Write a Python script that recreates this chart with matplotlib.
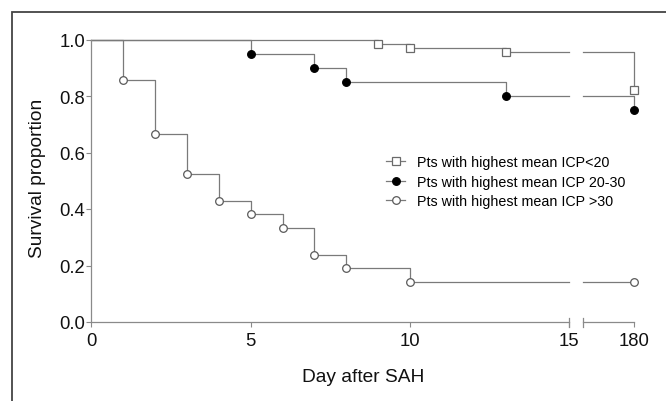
import numpy as np
import matplotlib
matplotlib.use('Agg')
import matplotlib.pyplot as plt
from matplotlib.lines import Line2D
from matplotlib.patches import Rectangle
import matplotlib.transforms as mtransforms

plt.rcParams['font.family'] = ['Liberation Sans', 'DejaVu Sans']

# Kaplan-Meier steps
days_lt20 = [9, 10, 13, 180]
surv_lt20 = [0.985, 0.970, 0.955, 0.821]

days_20_30 = [5, 7, 8, 13, 180]
surv_20_30 = [0.95, 0.90, 0.85, 0.80, 0.75]

days_gt30 = [1, 2, 3, 4, 5, 6, 7, 8, 10, 180]
surv_gt30 = [0.857, 0.667, 0.524, 0.429, 0.381, 0.333, 0.238, 0.190, 0.143, 0.143]

labels = ['Pts with highest mean ICP<20',
          'Pts with highest mean ICP 20-30',
          'Pts with highest mean ICP >30']

x_ticks_left = [0, 5, 10, 15]
x_ticks_right = [180]
y_ticks = [0.0, 0.2, 0.4, 0.6, 0.8, 1.0]
break_at = 15
break_start = 178.38

line_col = '#7a7a7a'
styles = [dict(marker='s', mfc='white', mec='#6a6a6a', ms=5.5, mew=0.9),
          dict(marker='o', mfc='black', mec='black', ms=5.5, mew=0.9),
          dict(marker='o', mfc='white', mec='#5a5a5a', ms=5.5, mew=0.9)]

W, H = 666, 402
fig = plt.figure(figsize=(W / 100, H / 100), dpi=100)
ax1 = fig.add_axes([91.4 / W, (H - 323) / H, (569.3 - 91.4) / W, (323 - 40.5) / H])
ax2 = fig.add_axes([582.7 / W, (H - 323) / H, (634.3 - 582.7) / W, (323 - 40.5) / H], sharey=ax1)

series = [(days_lt20, surv_lt20), (days_20_30, surv_20_30), (days_gt30, surv_gt30)]

for (days, surv), st in zip(series, styles):
    days = np.array(days, dtype=float)
    surv = np.array(surv)
    # left segment 0..15
    m = days <= break_at
    last = surv[m][-1] if m.any() else 1.0
    x = np.concatenate([[0], days[m], [break_at]])
    y = np.concatenate([[1.0], surv[m], [last]])
    ax1.step(x, y, where='post', color=line_col, lw=0.9, clip_on=False)
    ax1.plot(days[m], surv[m], linestyle='none', clip_on=False, zorder=3, **st)
    # right segment near 180
    r = days > break_at
    x = np.concatenate([[break_start], days[r]])
    y = np.concatenate([[last], surv[r]])
    ax2.step(x, y, where='post', color=line_col, lw=0.9, clip_on=False)
    ax2.plot(days[r], surv[r], linestyle='none', clip_on=False, zorder=3, **st)

ax1.set_xlim(0, break_at)
ax2.set_xlim(break_start, 180)
ax1.set_ylim(0, 1.0)

for ax in (ax1, ax2):
    for s in ['top', 'right']:
        ax.spines[s].set_visible(False)
    for s in ['left', 'bottom']:
        ax.spines[s].set_color('#8a8a8a')
        ax.spines[s].set_linewidth(0.9)
    ax.tick_params(colors='#8a8a8a', labelcolor='#111111', length=3.6, width=0.8,
                   labelsize=13.3)
    ax.patch.set_alpha(0)

ax1.set_xticks(x_ticks_left)
ax1.set_yticks(y_ticks)
ax1.set_yticklabels(['%.1f' % v for v in y_ticks])
ax1.tick_params(axis='y', pad=0.8)
ax1.tick_params(axis='x', pad=3.4)

ax2.spines['left'].set_visible(False)
ax2.tick_params(axis='y', left=False, labelleft=False)
ax2.set_xticks(x_ticks_right)
ax2.tick_params(axis='x', pad=3.4)

# break marks at both ends of the gap
h = 4.5 / (323 - 40.5)
for ax, xb in ((ax1, break_at), (ax2, break_start)):
    tr = mtransforms.blended_transform_factory(ax.transData, ax.transAxes)
    ax.plot([xb, xb], [-h, h], color='#8a8a8a', lw=0.9, transform=tr, clip_on=False)

handles = [Line2D([], [], color=line_col, lw=0.9, **st) for st in styles]
fig.legend(handles, labels, loc='upper left', bbox_to_anchor=(386 / W, (H - 156) / H),
           frameon=False, fontsize=10.3, handlelength=1.33, handletextpad=0.85,
           labelspacing=0.4, borderpad=0, borderaxespad=0)

fig.text(363 / W, (H - 378) / H, 'Day after SAH', ha='center', va='center', fontsize=13.8,
         color='#111111')
fig.text(38 / W, (H - 178) / H, 'Survival proportion', ha='center', va='center',
         rotation=90, fontsize=13.8, color='#111111')

# outer frame of the figure panel
fig.patches.append(Rectangle((12 / W, -0.1), 1.0, (H - 12.7) / H + 0.1, transform=fig.transFigure,
                             fill=False, edgecolor='#444444', lw=1.3))

fig.savefig('out.png', dpi=100)
